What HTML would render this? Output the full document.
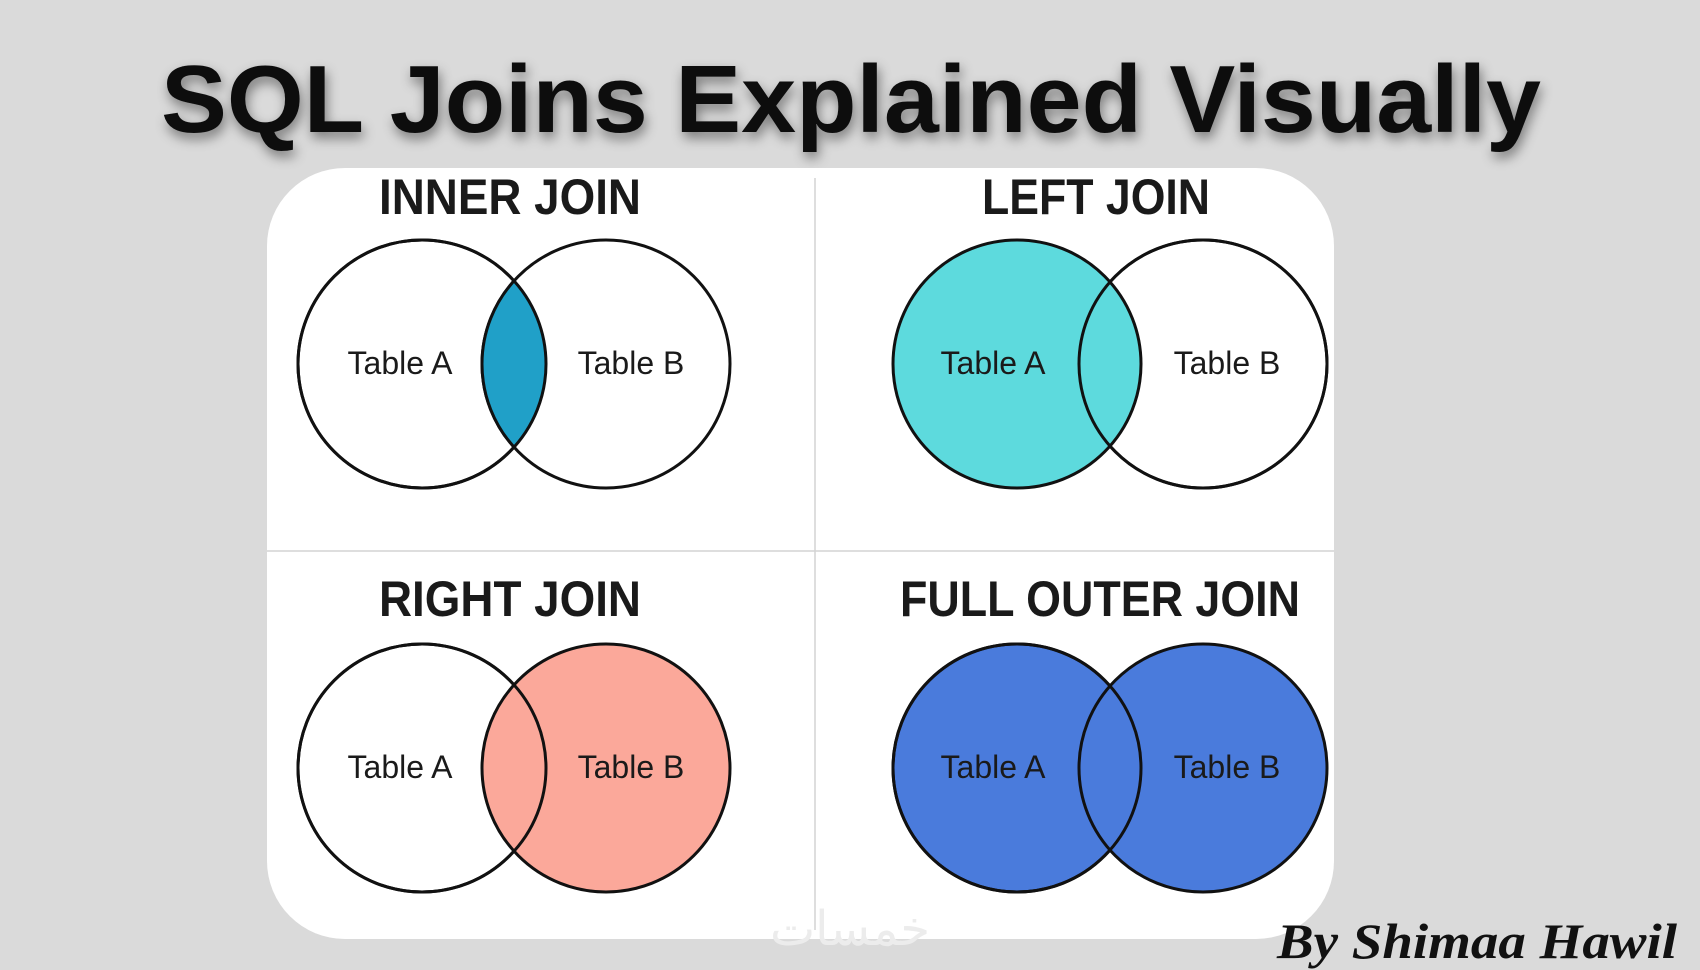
<!DOCTYPE html>
<html><head><meta charset="utf-8"><style>
html,body{margin:0;padding:0;background:#dadada;}
svg{display:block}
text{font-family:"Liberation Sans",sans-serif;}
</style></head><body>
<svg width="1700" height="970" viewBox="0 0 1700 970" xmlns="http://www.w3.org/2000/svg">
<defs>
<filter id="sh" x="-10%" y="-30%" width="120%" height="160%"><feDropShadow dx="2" dy="6" stdDeviation="6" flood-color="#000" flood-opacity="0.45"/></filter>
<clipPath id="cA1"><circle cx="422" cy="364" r="124"/></clipPath>
</defs>
<rect width="1700" height="970" fill="#dadada"/>
<text x="851" y="132" text-anchor="middle" font-size="96" font-weight="bold" fill="#111" textLength="1380" lengthAdjust="spacingAndGlyphs" filter="url(#sh)">SQL Joins Explained Visually</text>
<rect x="267" y="168" width="1067" height="771" rx="78" fill="#fff"/>
<line x1="815" y1="178" x2="815" y2="930" stroke="#d4d4d4" stroke-width="1.5"/>
<line x1="267" y1="551" x2="1334" y2="551" stroke="#d4d4d4" stroke-width="1.5"/>
<g font-weight="bold" font-size="50" fill="#1a1a1a" text-anchor="middle">
<text x="510" y="214" textLength="262" lengthAdjust="spacingAndGlyphs">INNER JOIN</text>
<text x="1096" y="214" textLength="228" lengthAdjust="spacingAndGlyphs">LEFT JOIN</text>
<text x="510" y="616" textLength="262" lengthAdjust="spacingAndGlyphs">RIGHT JOIN</text>
<text x="1100" y="616" textLength="400" lengthAdjust="spacingAndGlyphs">FULL OUTER JOIN</text>
</g>
<!-- Inner -->
<g stroke="#111" stroke-width="3">
<circle cx="422" cy="364" r="124" fill="#fff"/>
<circle cx="606" cy="364" r="124" fill="#fff"/>
<circle cx="606" cy="364" r="124" fill="#20a0c8" clip-path="url(#cA1)"/>
<circle cx="422" cy="364" r="124" fill="none"/>
<!-- Left -->
<circle cx="1203" cy="364" r="124" fill="#fff"/>
<circle cx="1017" cy="364" r="124" fill="#5ddadd"/>
<circle cx="1203" cy="364" r="124" fill="none"/>
<!-- Right -->
<circle cx="422" cy="768" r="124" fill="#fff"/>
<circle cx="606" cy="768" r="124" fill="#fba89a"/>
<circle cx="422" cy="768" r="124" fill="none"/>
<!-- Full -->
<circle cx="1017" cy="768" r="124" fill="#4a7bdc"/>
<circle cx="1203" cy="768" r="124" fill="#4a7bdc"/>
<circle cx="1017" cy="768" r="124" fill="none"/>
</g>
<g font-size="32" fill="#1a1a1a" text-anchor="middle">
<text x="400" y="374">Table A</text><text x="631" y="374">Table B</text>
<text x="993" y="374">Table A</text><text x="1227" y="374">Table B</text>
<text x="400" y="778">Table A</text><text x="631" y="778">Table B</text>
<text x="993" y="778">Table A</text><text x="1227" y="778">Table B</text>
</g>
<text x="850" y="945" text-anchor="middle" font-size="48" fill="#ececec" style="font-family:'DejaVu Sans',sans-serif">خمسات</text>
<text x="1477" y="958" text-anchor="middle" font-size="50" font-weight="bold" font-style="italic" fill="#111" textLength="400" lengthAdjust="spacingAndGlyphs" style="font-family:'Liberation Serif',serif">By Shimaa Hawil</text>
</svg>
</body></html>
